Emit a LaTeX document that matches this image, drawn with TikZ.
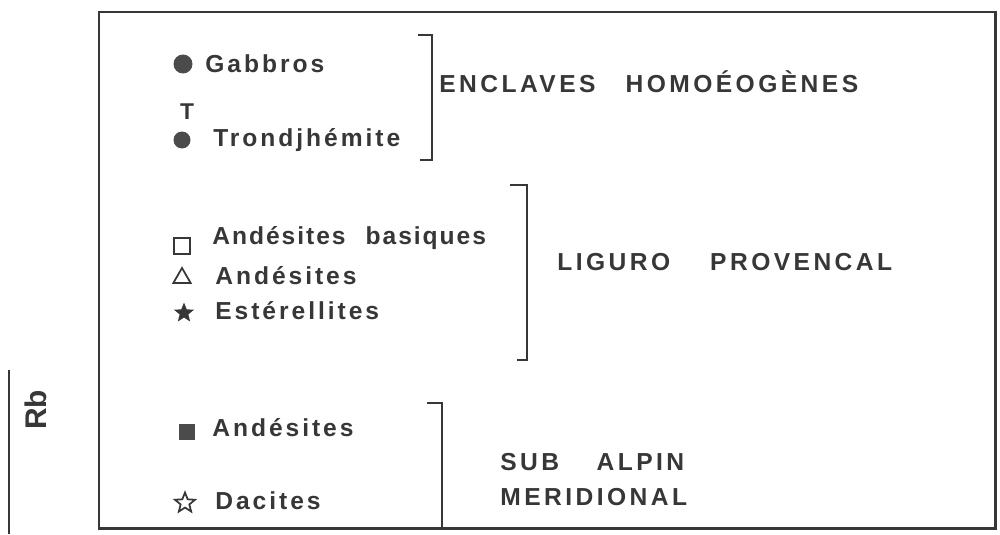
\documentclass[tikz,border=0pt]{standalone}
\usepackage{fontspec}
\setmainfont{Liberation Sans}
\newfontfamily\legendfont[LetterSpace=12]{Liberation Sans}
\newfontfamily\groupfont[LetterSpace=14]{Liberation Sans}
\usetikzlibrary{shapes.geometric}
\definecolor{ink}{RGB}{55,55,55}
\tikzset{
  legend/.style={anchor=west,inner sep=0pt,text=ink,font=\legendfont\bfseries\fontsize{14}{16}\selectfont},
  group/.style={anchor=west,inner sep=0pt,text=ink,font=\groupfont\bfseries\fontsize{14}{16}\selectfont},
  brace/.style={draw=ink,line width=1.4pt},
  mark dot/.style={circle,fill=ink!90,inner sep=0pt,minimum size=0.38cm},
  mark box/.style={rectangle,inner sep=0pt,minimum size=0.32cm},
  mark star/.style={star,star points=5,star point ratio=2.3,inner sep=0pt,minimum size=0.42cm}
}
\begin{document}
\begin{tikzpicture}[x=0.02cm,y=-0.02cm]
      \useasboundingbox (0,0) rectangle (1000,534);
      \begin{scope}
        \draw[draw=ink,line width=1.7pt] (99,12) rectangle (995,528);
        \draw[draw=ink,line width=1.5pt] (9,370) -- (9,534);
        \node[rotate=90,text=ink,font=\bfseries\fontsize{17}{20}\selectfont] (rb) at (36,410) {Rb};
        % enclaves
        \node[mark dot] (gab) at (183,64) {};
        \node[legend] at (205,64) {Gabbros};
        \node[text=ink,font=\bfseries\fontsize{13}{15}\selectfont,inner sep=0pt] (t) at (187,112) {T};
        \node[mark dot,minimum size=0.34cm] (tro) at (182,140) {};
        \node[legend] at (213,140) {Trondjhémite};
        \draw[brace] (418,35) -- (432,35) -- (432,160) -- (420,160);
        \node[group] at (439,82) {ENCLAVES\hspace{0.6cm}HOMOÉOGÈNES};
        % liguro provencal
        \node[mark box,draw=ink,line width=1pt] (ab) at (182,246) {};
        \node[legend,font=\bfseries\fontsize{14}{16}\selectfont] at (212,238) {\addfontfeature{LetterSpace=8}Andésites\hspace{0.4cm}basiques};
        \node[isosceles triangle,isosceles triangle apex angle=60,shape border rotate=90,draw=ink,line width=1pt,inner sep=0pt,minimum size=0.3cm] (an) at (182,278) {};
        \node[legend] at (215,276) {Andésites};
        \node[mark star,fill=ink] (es) at (184,313) {};
        \node[legend] at (215,311) {Estérellites};
        \draw[brace] (510,185) -- (527,185) -- (527,360) -- (517,360);
        \node[group] at (557,262) {LIGURO\hspace{0.8cm}PROVENCAL};
        % sub alpin
        \node[mark box,fill=ink!90] (as) at (187,432) {};
        \node[legend] at (212,428) {Andésites};
        \node[mark star,draw=ink,line width=1pt] (da) at (185,503) {};
        \node[legend] at (215,501) {Dacites};
        \draw[brace] (427,403) -- (442,403) -- (442,530);
        \node[group] at (500,462) {SUB\hspace{0.75cm}ALPIN};
        \node[group] at (500,497) {MERIDIONAL};
      \end{scope}
  \end{tikzpicture}
\end{document}
